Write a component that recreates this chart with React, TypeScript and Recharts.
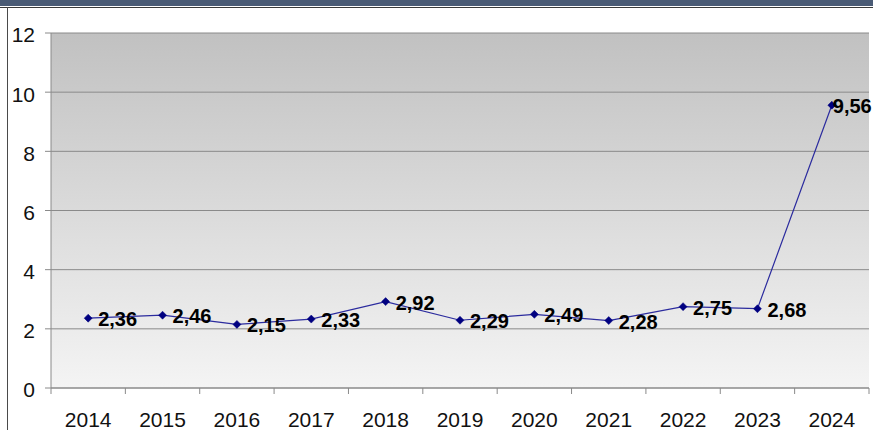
import React from 'react';
import { LineChart, Line, XAxis, YAxis, CartesianGrid, LabelList } from 'recharts';

const years = ['2014', '2015', '2016', '2017', '2018', '2019', '2020', '2021', '2022', '2023', '2024'];
const values = [2.36, 2.46, 2.15, 2.33, 2.92, 2.29, 2.49, 2.28, 2.75, 2.68, 9.56];
const yTicks = [0, 2, 4, 6, 8, 10, 12];

const data = years.map((year, i) => ({ year, value: values[i] }));

const FONT = '"Liberation Sans", Arial, sans-serif';
const AXIS_GRAY = '#8a8a8a';

// diamond marker like the old Excel chart
const Diamond = (props: any) => {
  const { cx, cy } = props;
  if (cx == null || cy == null) return null;
  return (
    <polygon
      points={`${cx},${cy - 4} ${cx + 4},${cy} ${cx},${cy + 4} ${cx - 4},${cy}`}
      fill="#000080"
      stroke="#000080"
      strokeWidth={0.5}
    />
  );
};

// x tick: label in band centre, tick marks on the band edges
const YearTick = (props: any) => {
  const { x, y, payload, index } = props;
  const half = payload && payload.offset ? payload.offset : 37;
  return (
    <g>
      <line x1={x - half} y1={y} x2={x - half} y2={y + 6} stroke={AXIS_GRAY} />
      {index === years.length - 1 && (
        <line x1={x + half} y1={y} x2={x + half} y2={y + 6} stroke={AXIS_GRAY} />
      )}
      <text x={x} y={y + 39} textAnchor="middle" fontSize={21} fontFamily={FONT} fill="#111">
        {payload.value}
      </text>
    </g>
  );
};

// last label sits tight against its point so it stays inside the picture
const ValueLabel = (props: any) => {
  const { x, y, value, index } = props;
  const off = index === values.length - 1 ? 1 : 10;
  return (
    <text x={x + off} y={y + 8} fontSize={20} fontWeight="bold" fontFamily={FONT} fill="#000">
      {Number(value).toFixed(2).replace('.', ',')}
    </text>
  );
};

export default function App() {
  return (
    <div style={{ position: 'absolute', left: 0, top: 0, width: 873, height: 430, background: '#fff', overflow: 'hidden' }}>
      {/* frame pieces from the original slide */}
      <div style={{ position: 'absolute', left: 0, top: 0, width: 873, height: 6, background: '#4a5b75' }} />
      <div style={{ position: 'absolute', left: 0, top: 7, width: 873, height: 1, background: '#3a3a3a' }} />
      <div style={{ position: 'absolute', left: 7, top: 7, width: 1, height: 423, background: '#4a4a4a' }} />
      <div style={{ position: 'absolute', left: 868, top: 33, width: 1, height: 355, background: AXIS_GRAY }} />

      <LineChart
        width={873}
        height={430}
        data={data}
        margin={{ top: 33, right: 4, left: 0, bottom: 0 }}
        style={{ position: 'absolute', left: 0, top: 0 }}
      >
        <defs>
          <linearGradient id="plotBg" x1="0" y1="0" x2="0" y2="1">
            <stop offset="0%" stopColor="#c1c1c1" />
            <stop offset="100%" stopColor="#f4f4f4" />
          </linearGradient>
        </defs>
        <CartesianGrid vertical={false} stroke={AXIS_GRAY} fill="url(#plotBg)" fillOpacity={1} />
        <XAxis
          dataKey="year"
          scale="band"
          height={42}
          tickLine={false}
          tickSize={0}
          tickMargin={0}
          axisLine={{ stroke: AXIS_GRAY }}
          tick={<YearTick />}
          interval={0}
        />
        <YAxis
          width={51}
          domain={[0, 12]}
          ticks={yTicks}
          tickSize={6}
          tickMargin={10}
          tickLine={{ stroke: AXIS_GRAY }}
          axisLine={{ stroke: AXIS_GRAY }}
          tick={{ fontSize: 21, fontFamily: FONT, fill: '#111', dy: 2 }}
        />
        <Line
          type="linear"
          dataKey="value"
          stroke="#2b2b9e"
          strokeWidth={1.2}
          dot={<Diamond />}
          activeDot={false}
          isAnimationActive={false}
        >
          <LabelList dataKey="value" content={<ValueLabel />} />
        </Line>
      </LineChart>
    </div>
  );
}
